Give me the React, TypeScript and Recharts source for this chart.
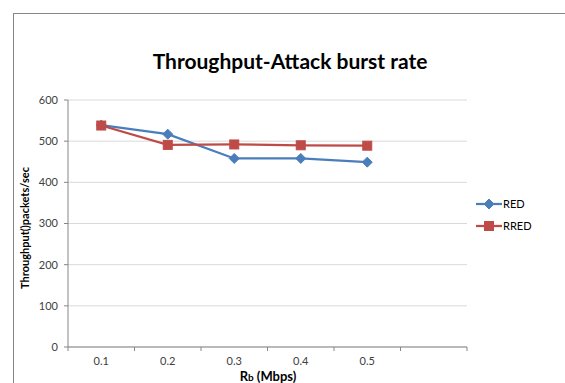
import React from "react";
import { LineChart, Line, XAxis, YAxis, CartesianGrid } from "recharts";

// x positions (Mbps) and readings from the reference
const rates = [0.1, 0.2, 0.3, 0.4, 0.5];
const redValues = [539, 517, 458, 458, 449];
const rredValues = [538, 491, 492, 490, 489];
// boundary ticks of the 6 category slots, labels sit between them
const xBoundaries = [0.05, 0.15, 0.25, 0.35, 0.45, 0.55, 0.65];
const xTickLabels = ["0.1", "0.2", "0.3", "0.4", "0.5", ""];
const yTicks = [0, 100, 200, 300, 400, 500, 600];

const BLUE = "#4a7ebb";
const RED = "#be4b48";
const FONT = "Lato, 'Open Sans', sans-serif";

const data = rates.map((r, i) => ({ rate: r, red: redValues[i], rred: rredValues[i] }));

function Diamond({ cx, cy }: { cx?: number; cy?: number }) {
  if (cx == null || cy == null) return null;
  const s = 5;
  return (
    <polygon
      points={`${cx},${cy - s} ${cx + s},${cy} ${cx},${cy + s} ${cx - s},${cy}`}
      fill={BLUE}
      stroke={BLUE}
    />
  );
}

function Square({ cx, cy }: { cx?: number; cy?: number }) {
  if (cx == null || cy == null) return null;
  const s = 4.5;
  return <rect x={cx - s} y={cy - s} width={s * 2} height={s * 2} fill={RED} stroke={RED} />;
}

function XTick({ x, y, index }: { x?: number; y?: number; index?: number }) {
  const label = xTickLabels[index ?? 0];
  if (!label || x == null || y == null) return null;
  // put the label in the middle of the slot
  return (
    <text x={x + 33.3} y={y + 12} textAnchor="middle" fontSize={11} fill="#404040" fontFamily={FONT}>
      {label}
    </text>
  );
}

export default function App() {
  return (
    <div
      style={{
        position: "fixed",
        left: 0,
        top: 0,
        width: 565,
        height: 383,
        overflow: "hidden",
        background: "#fff",
        fontFamily: FONT,
      }}
    >
      <div
        style={{
          position: "absolute",
          left: 13,
          top: 13,
          width: 700,
          height: 500,
          border: "1px solid #868686",
        }}
      />
      <div
        style={{
          position: "absolute",
          left: 290,
          top: 48,
          transform: "translateX(-50%)",
          whiteSpace: "nowrap",
          fontSize: 21,
          fontWeight: 700,
          color: "#000",
        }}
      >
        Throughput-Attack burst rate
      </div>
      <div
        style={{
          position: "absolute",
          left: 24,
          top: 228,
          transform: "translate(-50%, -50%) rotate(-90deg)",
          whiteSpace: "nowrap",
          fontSize: 11,
          fontWeight: 700,
          color: "#000",
        }}
      >
        Throughput()packets/sec
      </div>
      <div
        style={{
          position: "absolute",
          left: 268,
          top: 368,
          transform: "translateX(-50%)",
          whiteSpace: "nowrap",
          fontSize: 13,
          fontWeight: 700,
          color: "#000",
        }}
      >
        R<span style={{ fontSize: 10 }}>b</span> (Mbps)
      </div>
      <svg style={{ position: "absolute", left: 0, top: 0 }} width={565} height={383}>
        <line x1={476} x2={502} y1={204} y2={204} stroke={BLUE} strokeWidth={2.25} />
        <Diamond cx={489} cy={204} />
        <text x={503} y={208} fontSize={11} fill="#000" fontFamily={FONT}>
          RED
        </text>
        <line x1={476} x2={502} y1={226} y2={226} stroke={RED} strokeWidth={2.25} />
        <Square cx={489} cy={226} />
        <text x={503} y={230} fontSize={11} fill="#000" fontFamily={FONT}>
          RRED
        </text>
      </svg>
      <div style={{ position: "absolute", left: 0, top: 0 }}>
        <LineChart
          width={565}
          height={383}
          data={data}
          margin={{ top: 100, right: 98, bottom: 16, left: 38 }}
        >
          <CartesianGrid vertical={false} stroke="#d9d9d9" />
          <XAxis
            dataKey="rate"
            type="number"
            domain={[0.05, 0.65]}
            ticks={xBoundaries}
            height={20}
            stroke="#868686"
            tickSize={4}
            tick={<XTick />}
            interval={0}
          />
          <YAxis
            domain={[0, 600]}
            ticks={yTicks}
            width={30}
            stroke="#868686"
            tickSize={4}
            tickMargin={6}
            tick={{ fontSize: 11, fill: "#404040", fontFamily: FONT }}
          />
          <Line
            dataKey="red"
            stroke={BLUE}
            strokeWidth={2.25}
            dot={<Diamond />}
            activeDot={false}
            isAnimationActive={false}
          />
          <Line
            dataKey="rred"
            stroke={RED}
            strokeWidth={2.25}
            dot={<Square />}
            activeDot={false}
            isAnimationActive={false}
          />
        </LineChart>
      </div>
    </div>
  );
}
